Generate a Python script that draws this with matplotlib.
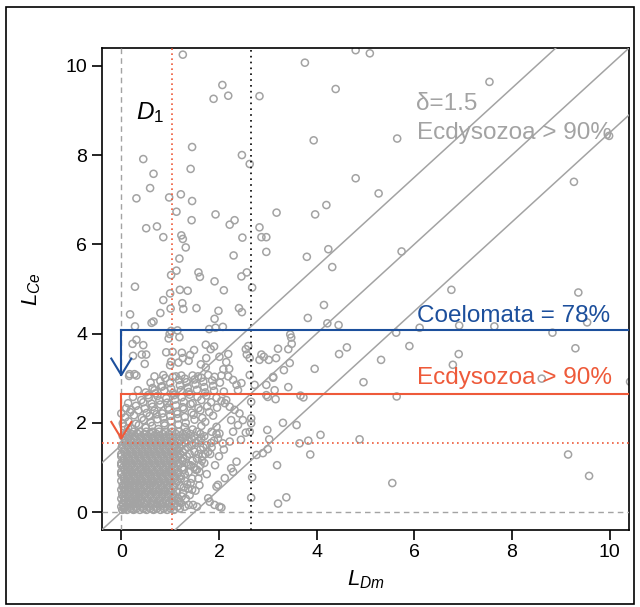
import numpy as np
import matplotlib.pyplot as plt
from matplotlib.patches import Rectangle

plt.rcParams['font.family'] = ['Liberation Sans', 'DejaVu Sans']
plt.rcParams['mathtext.fontset'] = 'custom'
plt.rcParams['mathtext.rm'] = 'Liberation Sans'
plt.rcParams['mathtext.it'] = 'Liberation Sans:italic'

# thresholds
delta = 1.5
x_red = 1.045          # red dotted vertical
y_red = 1.55           # red dotted horizontal
x_black = 2.66         # black dotted vertical
blue_level = 4.07      # Coelomata = 78%
blue_tip = 3.07
red_level = 2.65       # Ecdysozoa > 90%
red_tip = 1.65

# sparse points above the cluster (L_Dm, L_Ce)
upper_pts = [
    (1.26, 10.25), (2.07, 9.57), (1.89, 9.26), (2.19, 9.33), (2.83, 9.32), (1.45, 8.18),
    (0.45, 7.91), (2.47, 8.0), (2.63, 7.80), (1.42, 7.69), (0.66, 7.58), (0.59, 7.26),
    (0.31, 7.03), (0.98, 7.05), (1.22, 7.12), (1.45, 6.97), (1.13, 6.73), (1.93, 6.67),
    (1.44, 6.54), (2.22, 6.44), (2.32, 6.54), (0.51, 6.36), (0.73, 6.40), (0.86, 6.16),
    (1.23, 6.20), (1.26, 6.12), (2.48, 6.15), (2.83, 6.38), (2.87, 6.16), (2.97, 6.16),
    (1.32, 5.93), (2.97, 5.83), (2.30, 5.75), (1.19, 5.68), (1.13, 5.41), (1.02, 5.31),
    (1.58, 5.37), (1.61, 5.27), (1.91, 5.17), (2.46, 5.28), (2.57, 5.37), (0.28, 5.05),
    (1.0, 4.90), (1.20, 4.98), (1.36, 4.96), (2.10, 4.97), (2.68, 5.03), (0.86, 4.75),
    (1.25, 4.68), (1.27, 4.55), (1.01, 4.56), (1.54, 4.57), (0.80, 4.46), (1.99, 4.51),
    (2.41, 4.57), (2.47, 4.48), (0.18, 4.43), (1.91, 4.33), (0.62, 4.24), (0.66, 4.27),
    (0.28, 4.16), (1.80, 4.10), (1.93, 4.13), (2.08, 4.15), (1.02, 4.06), (1.15, 4.07),
    (0.99, 3.99), (0.97, 3.89), (1.19, 3.92), (0.31, 3.86), (0.23, 3.77), (0.45, 3.74),
    (0.24, 3.50), (0.42, 3.53), (0.51, 3.53), (0.48, 3.32), (0.92, 3.58), (1.05, 3.59),
    (1.02, 3.37), (1.00, 3.29), (1.24, 3.57), (1.26, 3.45), (1.41, 3.52), (1.38, 3.39),
    (1.49, 3.63), (1.17, 3.35), (1.73, 3.75), (1.90, 3.71), (1.83, 3.65), (1.74, 3.45),
    (1.63, 3.31), (1.73, 3.24), (2.01, 3.48), (2.19, 3.54), (2.15, 3.36), (2.21, 3.21),
    (2.09, 3.20), (2.55, 3.65), (2.60, 3.72), (2.57, 3.53), (2.63, 3.45), (2.87, 3.53),
    (2.92, 3.48), (2.83, 3.41),
    (0.16, 3.05), (0.31, 3.06), (0.68, 3.04), (0.86, 3.07), (1.06, 3.03), (1.23, 3.06),
    (1.57, 3.04), (1.78, 3.07), (1.91, 3.03), (2.05, 3.06), (2.19, 3.04), (2.63, 3.07),
]

# points to the right of the black dotted line
right_pts = [
    (4.80, 10.35), (5.09, 10.28), (3.76, 10.07), (4.39, 9.48), (3.94, 8.33), (5.65, 8.37),
    (4.80, 7.48), (5.27, 7.14), (4.20, 6.88), (3.97, 6.67), (3.18, 6.71),
    (3.80, 5.72), (4.24, 5.89), (4.32, 5.49), (5.74, 5.84), (6.76, 4.98), (4.15, 4.64),
    (3.82, 4.35), (4.22, 4.23), (4.45, 4.19), (6.11, 4.13), (6.92, 4.18), (3.46, 3.98),
    (3.48, 3.91), (3.49, 3.77), (5.63, 4.02), (3.21, 3.66), (3.42, 3.65), (4.62, 3.69),
    (4.46, 3.54), (5.90, 3.72), (3.02, 3.41), (3.17, 3.45), (3.45, 3.34), (3.33, 3.18),
    (3.96, 3.21), (5.32, 3.41), (6.91, 3.54), (6.79, 3.30), (3.11, 3.01), (2.97, 2.85),
    (3.42, 2.80), (4.96, 2.91), (2.97, 2.62), (3.16, 2.53), (3.67, 2.61), (3.73, 2.57),
    (5.64, 2.59), (3.31, 2.00), (3.59, 1.95), (2.99, 1.84), (3.03, 1.63), (3.65, 1.54),
    (3.83, 1.60), (4.08, 1.73), (4.88, 1.63), (2.90, 1.32), (3.0, 1.41), (3.87, 1.29),
    (3.19, 1.05), (5.55, 0.65), (3.21, 0.19), (3.38, 0.33),
    (7.54, 9.64), (9.99, 8.43), (9.27, 7.40), (9.36, 4.92), (7.64, 4.16), (9.54, 4.25),
    (8.83, 4.02), (9.30, 3.67), (8.61, 2.99), (10.42, 2.92), (9.15, 1.29), (9.58, 0.81),
]

# points between the red and black dotted lines, low L_Ce
mid_pts = [
    (2.77, 1.28), (2.68, 0.78), (2.66, 0.32), (2.36, 1.13), (2.25, 0.98), (2.29, 0.90),
    (2.12, 0.76), (1.98, 0.61), (1.95, 0.57), (1.78, 0.31), (1.81, 0.23), (1.91, 0.16),
    (2.01, 0.12), (2.05, 0.10), (1.47, 0.16), (2.73, 2.85), (3.11, 3.03), (3.14, 2.73),
    (2.66, 2.47), (3.0, 2.58), (2.66, 2.10), (2.66, 1.99), (2.63, 1.80), (2.29, 2.96),
    (2.36, 2.85), (2.46, 2.89), (2.39, 2.73), (2.15, 2.51), (2.12, 2.44), (2.22, 2.36),
    (2.32, 2.29), (2.42, 2.21), (2.49, 2.06), (2.25, 2.06), (2.39, 1.95), (2.29, 1.80),
    (2.01, 1.76), (1.98, 1.65), (2.08, 1.54), (2.22, 1.58),
    (1.45, 0.75), (1.55, 0.95), (1.65, 1.15), (1.72, 1.30), (1.85, 1.45), (1.60, 0.60),
    (1.52, 0.48), (1.75, 0.85), (1.92, 1.05), (2.0, 1.25), (2.1, 1.40), (1.35, 0.62),
    (1.42, 1.05), (1.58, 1.30), (2.45, 1.62), (2.55, 1.78),
    (1.13, 0.46), (1.26, 0.42), (1.19, 0.23), (1.37, 0.53), (1.40, 0.38),
]

# upper part of the dense cluster
cluster_top = [
    (0.17, 3.09), (0.27, 3.09), (0.34, 2.73), (0.24, 2.58), (0.14, 2.44), (0.20, 2.29),
    (0.41, 2.51), (0.55, 2.62), (0.68, 2.73), (0.82, 2.81), (0.0, 2.21), (0.03, 1.99),
    (0.14, 1.88),
    (0.05, 1.92), (0.22, 1.87), (0.36, 1.95), (0.50, 1.89), (0.63, 1.93), (0.76, 1.86),
    (0.89, 1.94), (1.03, 1.88), (1.17, 1.96), (1.30, 1.90), (1.46, 1.85), (1.64, 1.93),
    (1.95, 1.91),
    (0.15, 2.03), (0.30, 1.98), (0.46, 2.06), (0.60, 2.01), (0.74, 2.08), (0.88, 1.99),
    (1.02, 2.04), (1.16, 2.10), (1.32, 2.00), (1.50, 2.07), (1.72, 2.02),
    (0.08, 2.12), (0.26, 2.17), (0.42, 2.11), (0.58, 2.15), (0.72, 2.19), (0.86, 2.12),
    (1.00, 2.16), (1.15, 2.20), (1.30, 2.13), (1.48, 2.18), (1.66, 2.11), (1.88, 2.16),
    (0.18, 2.24), (0.35, 2.28), (0.52, 2.22), (0.68, 2.27), (0.84, 2.21), (0.98, 2.29),
    (1.14, 2.25), (1.28, 2.31), (1.44, 2.23), (1.62, 2.28), (1.80, 2.24),
    (0.10, 2.33), (0.30, 2.38), (0.48, 2.32), (0.64, 2.36), (0.80, 2.41), (0.96, 2.34),
    (1.12, 2.39), (1.26, 2.35), (1.42, 2.42), (1.58, 2.33), (1.76, 2.37), (1.96, 2.34),
    (0.45, 2.46), (0.62, 2.43), (0.78, 2.50), (0.94, 2.45), (1.10, 2.52), (1.28, 2.47),
    (1.46, 2.44), (1.64, 2.51), (1.84, 2.46), (2.05, 2.49),
    (0.56, 2.56), (0.74, 2.60), (0.92, 2.55), (1.08, 2.62), (1.24, 2.57), (1.40, 2.63),
    (1.56, 2.58), (1.74, 2.61), (1.95, 2.56),
    (0.50, 2.68), (0.70, 2.66), (0.88, 2.72), (1.06, 2.67), (1.22, 2.73), (1.38, 2.69),
    (1.55, 2.74), (1.72, 2.68), (1.90, 2.72), (2.10, 2.70),
    (0.64, 2.78), (0.84, 2.82), (1.02, 2.77), (1.20, 2.84), (1.36, 2.79), (1.52, 2.86),
    (1.70, 2.80), (1.88, 2.83),
    (0.60, 2.90), (0.80, 2.94), (1.00, 2.89), (1.18, 2.96), (1.34, 2.91), (1.50, 2.97),
    (1.68, 2.92), (1.86, 2.95), (2.02, 2.90),
    (0.90, 3.00), (1.12, 3.04), (1.30, 2.99), (1.46, 3.06), (1.64, 3.01),
]

# dense core of the cluster: rows of (L_Ce, [L_Dm values])
core_rows = [
    (0.05, [0.02, 0.12, 0.25, 0.38, 0.52, 0.66, 0.80, 0.94, 1.08]),
    (0.08, [0.06, 0.19, 0.31, 0.45, 0.59, 0.73, 0.87, 1.01, 1.20]),
    (0.12, [0.0, 0.08, 0.18, 0.30, 0.44, 0.58, 0.72, 0.88, 1.02, 1.15, 1.30, 1.55]),
    (0.16, [0.04, 0.13, 0.24, 0.37, 0.51, 0.65, 0.80, 0.95, 1.08, 1.38]),
    (0.20, [0.03, 0.14, 0.24, 0.35, 0.47, 0.60, 0.73, 0.85, 0.97, 1.10, 1.22]),
    (0.25, [0.06, 0.19, 0.30, 0.41, 0.53, 0.66, 0.79, 0.91, 1.04, 1.16]),
    (0.30, [0.0, 0.09, 0.20, 0.31, 0.42, 0.54, 0.66, 0.78, 0.90, 1.03, 1.16, 1.32]),
    (0.35, [0.04, 0.15, 0.26, 0.37, 0.48, 0.60, 0.72, 0.84, 0.96, 1.10, 1.24]),
    (0.40, [0.02, 0.13, 0.25, 0.36, 0.48, 0.60, 0.71, 0.83, 0.95, 1.07]),
    (0.45, [0.07, 0.19, 0.30, 0.42, 0.54, 0.66, 0.77, 0.89, 1.01, 1.14]),
    (0.50, [0.0, 0.08, 0.19, 0.30, 0.41, 0.53, 0.65, 0.77, 0.88, 1.00, 1.45]),
    (0.55, [0.04, 0.14, 0.25, 0.36, 0.47, 0.59, 0.71, 0.83, 0.94, 1.08, 1.28]),
    (0.60, [0.03, 0.14, 0.25, 0.36, 0.47, 0.59, 0.70, 0.82, 0.94, 1.06, 1.20]),
    (0.65, [0.08, 0.19, 0.30, 0.41, 0.53, 0.64, 0.76, 0.88, 1.00, 1.12, 1.42]),
    (0.70, [0.0, 0.10, 0.21, 0.32, 0.43, 0.55, 0.66, 0.78, 0.90, 1.02, 1.15, 1.30]),
    (0.75, [0.05, 0.16, 0.27, 0.38, 0.49, 0.61, 0.72, 0.84, 0.96, 1.08, 1.22, 1.58]),
    (0.80, [0.05, 0.16, 0.27, 0.38, 0.50, 0.61, 0.73, 0.85, 0.97, 1.09, 1.22]),
    (0.85, [0.0, 0.11, 0.22, 0.33, 0.44, 0.56, 0.67, 0.79, 0.91, 1.03, 1.15, 1.30]),
    (0.90, [0.0, 0.11, 0.22, 0.34, 0.45, 0.56, 0.68, 0.80, 0.92, 1.04, 1.17, 1.38, 1.60]),
    (0.95, [0.06, 0.17, 0.28, 0.40, 0.51, 0.62, 0.74, 0.86, 0.98, 1.10, 1.28, 1.52]),
    (1.00, [0.04, 0.15, 0.27, 0.39, 0.50, 0.62, 0.74, 0.86, 0.98, 1.10, 1.25, 1.48]),
    (1.05, [0.0, 0.10, 0.21, 0.33, 0.45, 0.56, 0.68, 0.80, 0.92, 1.04, 1.17, 1.38, 1.62]),
    (1.10, [0.0, 0.10, 0.21, 0.33, 0.45, 0.57, 0.69, 0.81, 0.93, 1.05, 1.18, 1.33, 1.70]),
    (1.15, [0.05, 0.16, 0.27, 0.39, 0.51, 0.63, 0.75, 0.87, 0.99, 1.11, 1.25, 1.46]),
    (1.20, [0.05, 0.16, 0.28, 0.40, 0.52, 0.64, 0.76, 0.88, 1.00, 1.12, 1.27, 1.55]),
    (1.25, [0.0, 0.11, 0.22, 0.34, 0.46, 0.58, 0.70, 0.82, 0.94, 1.06, 1.18, 1.34, 1.66]),
    (1.30, [0.0, 0.12, 0.24, 0.36, 0.48, 0.60, 0.72, 0.84, 0.96, 1.08, 1.21, 1.40, 1.82]),
    (1.35, [0.06, 0.18, 0.30, 0.42, 0.54, 0.66, 0.78, 0.90, 1.02, 1.14, 1.26, 1.50, 1.78]),
    (1.40, [0.07, 0.19, 0.31, 0.43, 0.55, 0.67, 0.79, 0.91, 1.03, 1.16, 1.30, 1.62]),
    (1.45, [0.01, 0.13, 0.25, 0.37, 0.49, 0.61, 0.73, 0.85, 0.97, 1.09, 1.20, 1.36, 1.68]),
    (1.50, [0.02, 0.14, 0.26, 0.38, 0.50, 0.62, 0.74, 0.86, 0.98, 1.10, 1.24, 1.45, 1.75]),
    (1.55, [0.08, 0.20, 0.32, 0.44, 0.56, 0.68, 0.80, 0.92, 1.04, 1.16, 1.30, 1.52, 1.84]),
    (1.60, [0.08, 0.20, 0.33, 0.45, 0.57, 0.69, 0.81, 0.93, 1.06, 1.20, 1.36, 1.58, 1.90]),
    (1.65, [0.14, 0.26, 0.39, 0.51, 0.63, 0.75, 0.87, 0.99, 1.12, 1.27, 1.44, 1.64]),
    (1.70, [0.03, 0.15, 0.28, 0.41, 0.54, 0.66, 0.79, 0.92, 1.05, 1.19, 1.33, 1.50, 1.70]),
    (1.75, [0.09, 0.21, 0.34, 0.47, 0.60, 0.72, 0.85, 0.98, 1.12, 1.26, 1.42, 1.62, 1.95]),
    (1.80, [0.12, 0.25, 0.38, 0.51, 0.64, 0.77, 0.90, 1.04, 1.18, 1.34, 1.55, 1.85]),
]

GRAY = '#a3a3a3'
BLUE = '#1c4f9c'
RED = '#ee5a3a'

pts = upper_pts + right_pts + mid_pts + cluster_top
for yv, xs in core_rows:
    pts += [(xv, yv) for xv in xs]
pts = np.array(pts)

fig = plt.figure(figsize=(6.4, 6.07), dpi=100)
ax = fig.add_axes([0.159, 0.127, 0.824, 0.794])

ax.scatter(pts[:, 0], pts[:, 1], s=26, facecolors='none', edgecolors=GRAY,
           linewidths=1.1, zorder=2)

# reference lines
ax.axvline(0, color=GRAY, ls=(0, (4, 3)), lw=1, zorder=3)
ax.axhline(0, color=GRAY, ls=(0, (4, 3)), lw=1, zorder=3)
ax.axvline(x_red, color=RED, ls=(0, (1, 2)), lw=1.2, zorder=3)
ax.axhline(y_red, color=RED, ls=(0, (1, 2)), lw=1.2, zorder=3)
ax.axvline(x_black, color='black', ls=(0, (1, 2.5)), lw=1.2, zorder=3)
for c in (delta, 0, -delta):
    ax.axline((0, c), slope=1, color=GRAY, lw=1.1, zorder=3)

# threshold arrows
for lev, tip, col in ((blue_level, blue_tip, BLUE), (red_level, red_tip, RED)):
    ax.plot([0, 10.4], [lev, lev], color=col, lw=1.5, zorder=4)
    ax.plot([0, 0], [lev, tip], color=col, lw=1.5, zorder=4)
    ax.plot([-0.205, 0, 0.205], [tip + 0.37, tip, tip + 0.37], color=col, lw=1.5, zorder=4)

ax.text(6.03, 9.01, 'δ=1.5', color=GRAY, fontsize=17.5)
ax.text(6.05, 8.35, 'Ecdysozoa > 90%', color=GRAY, fontsize=17.5)
ax.text(6.05, 4.26, 'Coelomata = 78%', color=BLUE, fontsize=17.5, zorder=5)
ax.text(6.05, 2.87, 'Ecdysozoa > 90%', color=RED, fontsize=17.5, zorder=5)
ax.text(0.31, 8.81, '$D_{\\mathrm{1}}$', fontsize=17.5)

ax.set_xlim(-0.4, 10.4)
ax.set_ylim(-0.4, 10.4)
ax.set_xticks(range(0, 11, 2))
ax.set_yticks(range(0, 11, 2))
ax.tick_params(labelsize=14, length=7, width=1.2, direction='out')
for s in ax.spines.values():
    s.set_linewidth(1.2)
ax.set_xlabel('$L_{Dm}$', fontsize=16, labelpad=5)
ax.set_ylabel('$L_{Ce}$', fontsize=16, labelpad=16)

fig.patches.append(Rectangle((0.0094, 0.005), 0.981, 0.983, transform=fig.transFigure,
                             fill=False, lw=1.2, ec='black'))

fig.savefig('out.png', dpi=100)
